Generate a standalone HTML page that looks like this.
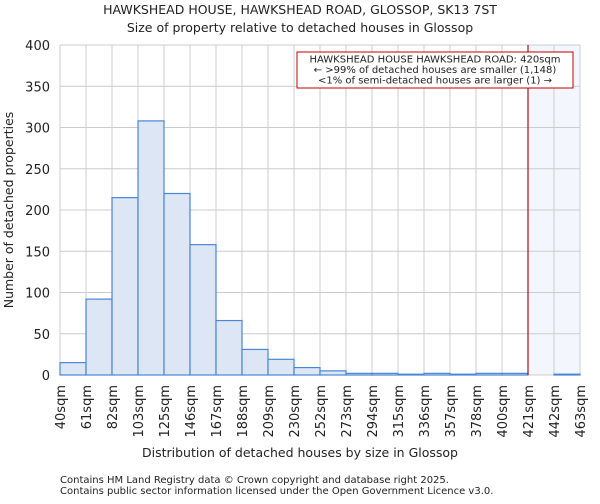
<!DOCTYPE html>
<html><head><meta charset="utf-8"><style>
body{margin:0;background:#fff;font-family:"DejaVu Sans","Liberation Sans",sans-serif;}
svg text{font-family:"DejaVu Sans","Liberation Sans",sans-serif;fill:#222;}
</style></head><body>
<svg id="chart" width="600" height="500">
<text x="300" y="14" text-anchor="middle" font-size="12.5">HAWKSHEAD HOUSE, HAWKSHEAD ROAD, GLOSSOP, SK13 7ST</text>
<text x="300" y="32" text-anchor="middle" font-size="12.5">Size of property relative to detached houses in Glossop</text>
<g id="plot"></g>
<text x="300" y="457" text-anchor="middle" font-size="12.5">Distribution of detached houses by size in Glossop</text>
<text transform="translate(13,210) rotate(-90)" text-anchor="middle" font-size="12.5">Number of detached properties</text>
<text x="60" y="483" font-size="10" fill="#444">Contains HM Land Registry data © Crown copyright and database right 2025.</text>
<text x="60" y="494" font-size="10" fill="#444">Contains public sector information licensed under the Open Government Licence v3.0.</text>
</svg>
<script>
const binLabels=["40sqm","61sqm","82sqm","103sqm","125sqm","146sqm","167sqm","188sqm","209sqm","230sqm","252sqm","273sqm","294sqm","315sqm","336sqm","357sqm","378sqm","400sqm","421sqm","442sqm","463sqm"];
const counts=[15,92,215,308,220,158,66,31,19,9,5,2,2,1,2,1,2,2,0,1];
const yTicks=[0,50,100,150,200,250,300,350,400];
const markerIndex=18;
const annotation=["HAWKSHEAD HOUSE HAWKSHEAD ROAD: 420sqm","← >99% of detached houses are smaller (1,148)","<1% of semi-detached houses are larger (1) →"];
const NS="http://www.w3.org/2000/svg";
const L=60,R=580,T=45,B=375,yMax=400;
const g=document.getElementById('plot');
const n=binLabels.length-1;
const x=i=>L+(R-L)*i/n;
const y=v=>B-(B-T)*v/yMax;
function mk(t,a){const e=document.createElementNS(NS,t);for(const k in a)e.setAttribute(k,a[k]);g.appendChild(e);return e;}
let e=mk('rect',{x:x(markerIndex),y:T,width:R-x(markerIndex),height:B-T,fill:'#eef2fb',opacity:0.7});


for(let i=0;i<=n;i++){e=mk('line',{x1:x(i),x2:x(i),y1:T,y2:B,stroke:'#ccc'});

}
yTicks.forEach(v=>{e=mk('line',{x1:L,x2:R,y1:y(v),y2:y(v),stroke:'#ccc'});


e=mk('text',{x:L-10,y:y(v)+5,'text-anchor':'end','font-size':13});e.textContent=v;

});
counts.forEach((c,i)=>{if(c<=0)return;e=mk('rect',{x:x(i),y:y(c),width:x(i+1)-x(i),height:B-y(c),fill:'#dce6f4',stroke:'#4a86d8','stroke-width':1.2});

});
binLabels.forEach((l,i)=>{e=mk('text',{transform:`translate(${x(i)+5},385) rotate(-90)`,'text-anchor':'end','font-size':13});e.textContent=l;

});
e=mk('line',{x1:x(markerIndex),x2:x(markerIndex),y1:T,y2:B,stroke:'#a00000','stroke-width':1.1});


e=mk('rect',{x:297,y:52,width:276,height:36,fill:'#fff',stroke:'#c00000'});


annotation.forEach((s,i)=>{e=mk('text',{x:435,y:62.5+i*10.5,'text-anchor':'middle','font-size':10});e.textContent=s;

});
</script>
</body></html>
